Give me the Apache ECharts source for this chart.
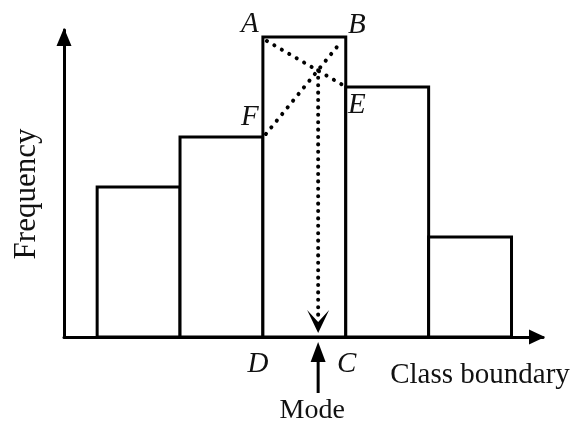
<!DOCTYPE html>
<html><head><meta charset="utf-8">
<script src="https://cdn.jsdelivr.net/npm/echarts@6/dist/echarts.min.js"></script>
<style>html,body{margin:0;padding:0;background:#fff}#c{width:581px;height:425px}</style>
</head><body><div id="c"></div>
<script>
// ---- data ----
const classBoundaries = [10, 20, 30, 40, 50, 60];
const frequencies = [15, 20, 30, 25, 10];
const pointLabels = ['A', 'B', 'C', 'D', 'E', 'F'];
const xAxisTitle = 'Class boundary';
const yAxisTitle = 'Frequency';
const modeLabel = 'Mode';

// ---- derived ----
const modal = frequencies.indexOf(Math.max(...frequencies));
const L = classBoundaries[modal], U = classBoundaries[modal + 1];
const f1 = frequencies[modal], f0 = frequencies[modal - 1], f2 = frequencies[modal + 1];
const modeValue = L + (f1 - f0) / (2 * f1 - f0 - f2) * (U - L);
const modeHeight = f0 + (f1 - f0) * (modeValue - L) / (U - L);

const barData = frequencies.map((f, i) => [classBoundaries[i], classBoundaries[i + 1], f]);

const serif = '"Liberation Serif", "DejaVu Serif", serif';
const ink = '#000';

const chart = echarts.init(document.getElementById('c'), null, {renderer: 'canvas'});

function label(text, x, y) {
  return {type: 'text', x: x, y: y, style: {text: text, font: 'italic 29px ' + serif, fill: '#111', align: 'center', verticalAlign: 'middle'}};
}

chart.setOption({
  animation: false,
  backgroundColor: '#fff',
  grid: {left: 64, top: 30, width: 479, height: 307},
  xAxis: {
    type: 'value', min: 6, max: 63.8,
    axisLine: {show: true, onZero: false, lineStyle: {color: ink, width: 3}, symbol: ['none', 'triangle'], symbolSize: [15, 16], symbolOffset: [0, -6]},
    axisTick: {show: false}, axisLabel: {show: false}, splitLine: {show: false}
  },
  yAxis: {
    type: 'value', min: 0, max: 30.7,
    axisLine: {show: true, onZero: false, lineStyle: {color: ink, width: 3}, symbol: ['none', 'triangle'], symbolSize: [15, 18], symbolOffset: [0, -7]},
    axisTick: {show: false}, axisLabel: {show: false}, splitLine: {show: false}
  },
  graphic: [
    {type: 'text', x: 27, y: 194, rotation: Math.PI / 2, style: {text: yAxisTitle, font: '31px ' + serif, fill: '#111', align: 'center', verticalAlign: 'middle'}},
    {type: 'text', x: 480, y: 375, style: {text: xAxisTitle, font: '29px ' + serif, fill: '#111', align: 'center', verticalAlign: 'middle'}},
  ],
  series: [
    {
      type: 'custom',
      data: barData,
      encode: {x: [0, 1], y: 2},
      z: 2,
      renderItem: function (params, api) {
        const p0 = api.coord([api.value(0), api.value(2)]);
        const p1 = api.coord([api.value(1), 0]);
        return {type: 'rect', shape: {x: p0[0], y: p0[1], width: p1[0] - p0[0], height: p1[1] - p0[1]},
          style: {fill: '#fff', stroke: ink, lineWidth: 3}};
      }
    },
    {
      type: 'custom',
      data: [[modeValue, modeHeight]],
      clip: false,
      z: 5,
      renderItem: function (params, api) {
        const pA = api.coord([L, f1]), pB = api.coord([U, f1]);
        const pC = api.coord([U, 0]), pD = api.coord([L, 0]);
        const pE = api.coord([U, f2]), pF = api.coord([L, f0]);
        const pM = api.coord([api.value(0), api.value(1)]);
        const pM0 = api.coord([api.value(0), 0]);
        const dot = {stroke: ink, lineWidth: 4, lineDash: [0.1, 8.5], lineCap: 'round'};
        const dotV = {stroke: ink, lineWidth: 4, lineDash: [0.1, 7.3], lineCap: 'round'};
        const x = pM[0], y0 = pM0[1];
        return {
          type: 'group',
          children: [
            {type: 'line', shape: {x1: pA[0] + 4, y1: pA[1] + 4, x2: pE[0] - 3, y2: pE[1] - 2}, style: dot},
            {type: 'line', shape: {x1: pF[0] + 3, y1: pF[1] - 3, x2: pB[0] - 4, y2: pB[1] + 4}, style: dot},
            {type: 'line', shape: {x1: x, y1: pM[1], x2: x, y2: y0 - 18}, style: dotV},
            {type: 'polygon', shape: {points: [[x, y0 - 4], [x - 11, y0 - 27], [x, y0 - 15], [x + 11, y0 - 27]]}, style: {fill: ink}},
            {type: 'polygon', shape: {points: [[x, y0 + 5], [x - 7.5, y0 + 25], [x + 7.5, y0 + 25]]}, style: {fill: ink}},
            {type: 'line', shape: {x1: x, y1: y0 + 22, x2: x, y2: y0 + 56}, style: {stroke: ink, lineWidth: 3}},
            {type: 'text', x: x - 6, y: y0 + 74, style: {text: modeLabel, font: '28px ' + serif, fill: '#111', align: 'center', verticalAlign: 'middle'}},
            label(pointLabels[0], pA[0] - 13, pA[1] - 13),
            label(pointLabels[1], pB[0] + 11, pB[1] - 12),
            label(pointLabels[2], pC[0] + 1, pC[1] + 27),
            label(pointLabels[3], pD[0] - 5, pD[1] + 27),
            label(pointLabels[4], pE[0] + 11, pE[1] + 18),
            label(pointLabels[5], pF[0] - 13, pF[1] - 20)
          ]
        };
      }
    }
  ]
});
</script>
</body></html>
